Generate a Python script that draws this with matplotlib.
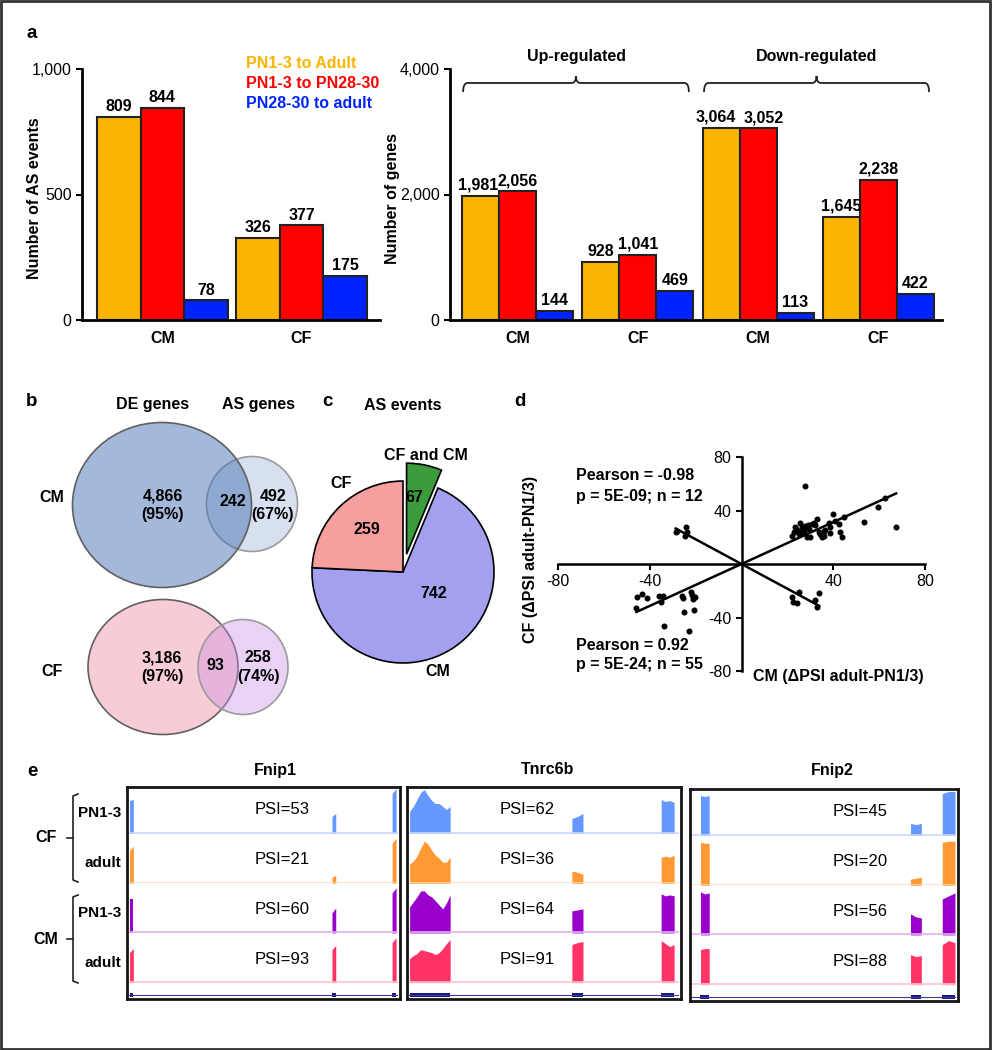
import numpy as np
import matplotlib
matplotlib.use('Agg')
import matplotlib.pyplot as plt
from matplotlib.patches import Ellipse, Rectangle, PathPatch
from matplotlib.path import Path
from matplotlib.lines import Line2D
from matplotlib.ticker import FuncFormatter

plt.rcParams['font.family'] = ['Liberation Sans', 'DejaVu Sans']
plt.rcParams['font.size'] = 11.5
plt.rcParams['axes.unicode_minus'] = False

# ---- data ----
series_names = ['PN1-3 to Adult', 'PN1-3 to PN28-30', 'PN28-30 to adult']
series_colors = ['#fbb400', '#ff0000', '#0022ff']

as_groups = ['CM', 'CF']
as_events_cm = [809, 844, 78]
as_events_cf = [326, 377, 175]

gene_groups = ['CM', 'CF', 'CM', 'CF']
genes_up_cm = [1981, 2056, 144]
genes_up_cf = [928, 1041, 469]
genes_down_cm = [3064, 3052, 113]
genes_down_cf = [1645, 2238, 422]

venn_cm = ['4,866\n(95%)', '242', '492\n(67%)']
venn_cf = ['3,186\n(97%)', '93', '258\n(74%)']

pie_labels = ['CF and CM', 'CM', 'CF']
pie_values = [67, 742, 259]
pie_colors = ['#3c9c3c', '#a3a0f0', '#f5a09f']

# panel d, positive correlation (n = 55)
pos_x = [27.5, 22.0, 22.8, 23.5, 24.9, 25.7, 26.4, 27.1, 27.8, 28.6, 29.3, 30.0, 30.7,
         31.4, 32.9, 33.6, 34.3, 35.0, 35.8, 36.5, 38.0, 38.7, 40.1, 42.3, 43.0, 43.8,
         44.5, 53.2, 59.7, 62.6, 67.4, 24.2, 40.9, 32.2, 26.0, 29.0, 36.0, 38.5,
         -45.8, -45.4, -43.2, -41.0, -35.9, -34.2, -35.2, -33.8, -25.8, -25.4, -25.1,
         -22.9, -22.2, -21.4, -21.0, -20.4, -20.7]
pos_y = [58.0, 20.6, 23.6, 27.4, 22.4, 31.0, 27.4, 24.9, 28.6, 19.9, 26.0, 19.9, 29.9,
         30.3, 33.6, 23.6, 22.4, 20.4, 21.1, 25.4, 31.0, 22.9, 37.3, 29.9, 23.6, 19.9,
         35.3, 31.1, 42.3, 49.3, 27.4, 25.4, 31.8, 29.4, 24.0, 29.5, 25.0, 28.0,
         -33.1, -24.9, -22.4, -25.4, -23.6, -23.9, -28.6, -46.5, -23.9, -25.4, -35.6,
         -50.2, -21.1, -22.9, -26.1, -24.4, -34.1]
# panel d, negative correlation (n = 12)
neg_x = [-28.7, -28.0, -24.1, -24.6, -23.9, 22.0, 22.5, 24.2, 25.2, 32.2, 32.9, 33.9]
neg_y = [23.6, 24.9, 27.4, 20.6, 23.6, -24.9, -28.6, -29.4, -21.1, -26.6, -31.8, -21.6]

# panel e
gene_names = ['Fnip1', 'Tnrc6b', 'Fnip2']
sample_cells = ['CF', 'CM']
sample_ages = ['PN1-3', 'adult', 'PN1-3', 'adult']
track_colors = ['#6699ff', '#ff9933', '#9900cc', '#ff3366']
track_light = ['#c8d8ff', '#ffd9b3', '#e0b3f0', '#ffc2d1']
psi_fnip1 = [53, 21, 60, 93]
psi_tnrc6b = [62, 36, 64, 91]
psi_fnip2 = [45, 20, 56, 88]
# exon spans in % of the window
exons_fnip1 = [(0.4, 1.8), (75.5, 76.9), (97.8, 99.3)]
exons_tnrc6b = [(0.4, 15.4), (60.4, 64.5), (93.4, 98.2)]
exons_fnip2 = [(3.4, 6.7), (82.8, 86.9), (94.8, 99.6)]
# coverage per sample, per exon (profile read across the exon)
cov_fnip1 = [
    [[33, 34], [17, 20], [40, 45]],
    [[33, 37], [6, 8], [40, 45]],
    [[34, 34], [20, 25], [40, 45]],
    [[30, 34], [33, 37], [40, 45]],
]
cov_tnrc6b = [
    [[22, 27, 34, 41, 44, 38, 33, 30, 30, 27, 24, 27], [15, 17, 20], [34, 32, 33, 31]],
    [[19, 22, 27, 35, 42, 39, 33, 28, 25, 21, 21, 26], [12, 11, 9], [26, 27, 26, 28]],
    [[26, 31, 36, 42, 42, 38, 36, 32, 28, 24, 30, 38], [22, 23, 24], [39, 37, 38, 37]],
    [[24, 27, 29, 33, 32, 31, 30, 28, 30, 34, 39, 43], [38, 40, 41], [42, 39, 36, 38]],
]
cov_fnip2 = [
    [[40, 39, 40], [12, 11, 12], [42, 44, 44]],
    [[43, 42, 42], [6, 7, 8], [43, 44, 44]],
    [[43, 41, 42], [21, 18, 17], [36, 39, 42]],
    [[35, 36, 36], [30, 28, 29], [40, 44, 42]],
]

W, H = 992, 1050
fig = plt.figure(figsize=(W / 100, H / 100), dpi=100)


def add_ax(l, t, r, b):
    return fig.add_axes([l / W, 1 - b / H, (r - l) / W, (b - t) / H])


def ftext(x, y, s, **kw):
    kw.setdefault('ha', 'center')
    kw.setdefault('va', 'center')
    fig.text(x / W, 1 - y / H, s, **kw)


def fline(xs, ys, **kw):
    fig.add_artist(Line2D([x / W for x in xs], [1 - y / H for y in ys],
                          transform=fig.transFigure, **kw))


def style_bar_ax(ax):
    for s in ['top', 'right']:
        ax.spines[s].set_visible(False)
    for s in ['left', 'bottom']:
        ax.spines[s].set_linewidth(2)
    ax.tick_params(axis='x', length=0, pad=8, labelsize=11.5)
    ax.tick_params(axis='y', length=4, width=1.5, labelsize=11.5)
    ax.yaxis.set_major_formatter(FuncFormatter(lambda v, p: f'{v:,.0f}'))
    for lab in ax.get_xticklabels():
        lab.set_fontweight('bold')


def brace(ax, x0, x1, y_line, y_end, y_peak, dx):
    xm = (x0 + x1) / 2
    verts = [(x0, y_end), (x0, y_line), (x0 + dx, y_line), (xm - dx, y_line),
             (xm, y_line), (xm, y_peak), (xm, y_line), (xm + dx, y_line),
             (x1 - dx, y_line), (x1, y_line), (x1, y_end)]
    codes = [Path.MOVETO, Path.CURVE3, Path.CURVE3, Path.LINETO, Path.CURVE3, Path.CURVE3,
             Path.CURVE3, Path.CURVE3, Path.LINETO, Path.CURVE3, Path.CURVE3]
    ax.add_patch(PathPatch(Path(verts, codes), fill=False, lw=1.3,
                           edgecolor='#222222', clip_on=False))


bold = dict(fontweight='bold', fontsize=11.5)

# ---- panel a, left ----
ax = add_ax(82, 69, 380, 320)
grp_pos = [0, 3.19]
as_vals = [as_events_cm, as_events_cf]
for j in range(3):
    vals = [v[j] for v in as_vals]
    bars = ax.bar([g + j for g in grp_pos], vals, width=1, color=series_colors[j],
                  edgecolor='#222222', linewidth=1.5)
    ax.bar_label(bars, labels=[f'{v:,}' for v in vals], padding=2, **bold)
ax.set_xlim(-0.844, 5.99)
ax.set_ylim(0, 1000)
ax.set_yticks([0, 500, 1000])
ax.set_xticks([g + 1 for g in grp_pos])
ax.set_xticklabels(as_groups)
style_bar_ax(ax)
ftext(35, 198, 'Number of AS events', rotation=90, **bold)
for j, name in enumerate(series_names):
    ftext(246, 64 + 20 * j, name, ha='left', color=series_colors[j], **bold)

# ---- panel a, right ----
ax = add_ax(450, 69, 942, 320)
grp_pos = [0, 3.25, 6.5, 9.75]
gene_vals = [genes_up_cm, genes_up_cf, genes_down_cm, genes_down_cf]
label_shift = {(0, 2): -4, (1, 2): 4, (0, 0): -2}
for j in range(3):
    vals = [v[j] for v in gene_vals]
    bars = ax.bar([g + j for g in grp_pos], vals, width=1, color=series_colors[j],
                  edgecolor='#222222', linewidth=1.5)
    texts = ax.bar_label(bars, labels=[f'{v:,}' for v in vals], padding=2, **bold)
    for gi, t in enumerate(texts):
        dx = label_shift.get((j, gi), 0)
        if dx:
            t.xyann = (t.xyann[0] + dx, t.xyann[1])
ax.set_xlim(-0.824, 12.47)
ax.set_ylim(0, 4000)
ax.set_yticks([0, 2000, 4000])
ax.set_xticks([g + 1 for g in grp_pos])
ax.set_xticklabels(gene_groups)
style_bar_ax(ax)
brace(ax, -0.47, 5.63, 3777, 3633, 3888, 0.12)
brace(ax, 6.04, 12.12, 3777, 3633, 3888, 0.12)
ax.set_ylim(0, 4000)
ftext(576, 57, 'Up-regulated', **bold)
ftext(817, 57, 'Down-regulated', **bold)
ftext(392, 198, 'Number of genes', rotation=90, **bold)

# ---- panel b ----
ax = add_ax(60, 415, 310, 745)
ax.set_xlim(60, 310)
ax.set_ylim(745, 415)
ax.axis('off')
ax.add_patch(Ellipse((252, 504), 91, 95, facecolor='#4a74b4', alpha=0.22, edgecolor='none'))
ax.add_patch(Ellipse((252, 504), 91, 95, facecolor='none', edgecolor='#9a9a9a', lw=1.2))
ax.add_patch(Ellipse((162, 505), 179, 165, facecolor='#4a74b4', alpha=0.5, edgecolor='none'))
ax.add_patch(Ellipse((162, 505), 179, 165, facecolor='none', edgecolor='#606060', lw=1.2))
ax.add_patch(Ellipse((163, 667), 150, 135, facecolor='#f29bb0', alpha=0.5, edgecolor='none'))
ax.add_patch(Ellipse((163, 667), 150, 135, facecolor='none', edgecolor='#606060', lw=1.2))
ax.add_patch(Ellipse((243, 667), 90, 95, facecolor='#c98fe5', alpha=0.4, edgecolor='none'))
ax.add_patch(Ellipse((243, 667), 90, 95, facecolor='none', edgecolor='#9a9a9a', lw=1.2))
ftext(153, 405, 'DE genes', **bold)
ftext(259, 405, 'AS genes', **bold)
ftext(52, 497, 'CM', **bold)
ftext(52, 672, 'CF', **bold)
for (x, y), s in zip([(163, 505), (233, 502), (273, 505)], venn_cm):
    ftext(x, y, s, linespacing=1.25, **bold)
for (x, y), s in zip([(162, 667), (215, 665), (258, 667)], venn_cf):
    ftext(x, y, s, linespacing=1.25, **bold)

# ---- panel c ----
ax = add_ax(288, 457, 518, 687)
ax.pie(pie_values, colors=pie_colors, startangle=90, counterclock=False,
       explode=[0.2, 0, 0], wedgeprops=dict(edgecolor='black', linewidth=1.2))
ax.set_xlim(-1.264, 1.264)
ax.set_ylim(-1.264, 1.264)
ax.set_aspect('equal')
ftext(403, 405, 'AS events', **bold)
ftext(426, 455, pie_labels[0], **bold)
ftext(414, 498, f'{pie_values[0]}', **bold)
ftext(434, 593, f'{pie_values[1]}', **bold)
ftext(438, 672, pie_labels[1], **bold)
ftext(367, 530, f'{pie_values[2]}', **bold)
ftext(341, 483, pie_labels[2], **bold)

# ---- panel d ----
ax = add_ax(558, 457, 925, 671)
ax.scatter(pos_x, pos_y, s=11, color='black', zorder=3)
ax.scatter(neg_x, neg_y, s=11, color='black', zorder=3)
for xs, ys in [(pos_x, pos_y), (neg_x, neg_y)]:
    xs, ys = np.array(xs), np.array(ys)
    k = np.sum(xs * ys) / np.sum(xs * xs)
    xl = np.array([xs.min(), xs.max()])
    ax.plot(xl, k * xl, color='black', lw=1.8)
ax.set_xlim(-80, 80)
ax.set_ylim(-80, 80)
ax.spines['left'].set_position('zero')
ax.spines['bottom'].set_position('zero')
ax.spines['top'].set_visible(False)
ax.spines['right'].set_visible(False)
ax.spines['left'].set_linewidth(1.8)
ax.spines['bottom'].set_linewidth(1.8)
ax.set_xticks([-80, -40, 40, 80])
ax.set_yticks([-80, -40, 40, 80])
ax.tick_params(labelsize=11.5, width=1.5, length=4)
ax.set_facecolor('none')
ftext(576, 476, 'Pearson = -0.98', ha='left', **bold)
ftext(576, 496, 'p = 5E-09; n = 12', ha='left', **bold)
ftext(576, 645, 'Pearson = 0.92', ha='left', **bold)
ftext(576, 665, 'p = 5E-24; n = 55', ha='left', **bold)
ftext(530, 559, 'CF (\u0394PSI adult-PN1/3)', rotation=90, **bold)
ftext(753, 676, 'CM (\u0394PSI adult-PN1/3)', ha='left', **bold)

# ---- panel e ----
boxes = [(127, 787, 400, 999), (407, 787, 681, 999), (690, 789, 958, 1001)]
exon_sets = [exons_fnip1, exons_tnrc6b, exons_fnip2]
cov_sets = [cov_fnip1, cov_tnrc6b, cov_fnip2]
psi_sets = [psi_fnip1, psi_tnrc6b, psi_fnip2]
psi_pos = [(282, 'center'), (500, 'left'), (833, 'left')]
title_x = [275, 548, 832]

for gi, (l, t, r, b) in enumerate(boxes):
    fax = add_ax(l, t, r, b)
    fax.set_xticks([])
    fax.set_yticks([])
    for s in fax.spines.values():
        s.set_linewidth(2)
        s.set_edgecolor('#151515')
    ftext(title_x[gi], 770, gene_names[gi], **bold)
    base = t + 46
    for i in range(4):
        bl = base + 49.7 * i
        tax = add_ax(l + 1.5, bl - 48, r - 2, bl + 0.5)
        tax.set_xlim(0, 100)
        tax.set_ylim(0, 48.5)
        tax.axis('off')
        tax.axhline(0.6, color=track_light[i], lw=1.2)
        for (x0, x1), prof in zip(exon_sets[gi], cov_sets[gi][i]):
            xs = np.concatenate([[x0], np.linspace(x0, x1, len(prof)), [x1]])
            ys = np.concatenate([[0], prof, [0]])
            tax.fill_between(xs, 0, ys, color=track_colors[i], linewidth=0)
        px_, ha_ = psi_pos[gi]
        ftext(px_, bl - 23, f'PSI={psi_sets[gi][i]}', ha=ha_, fontsize=12)
    gl = base + 49.7 * 3
    gax = add_ax(l + 1.5, gl + 3, r - 2, b - 1)
    gax.set_xlim(0, 100)
    gax.set_ylim(0, 1)
    gax.axis('off')
    gax.axhline(0.25, color='#3a3aa0', lw=0.8)
    for x0, x1 in exon_sets[gi]:
        gax.bar(x0, 0.28, bottom=0.11, width=x1 - x0, align='edge', color='#1a1a80', linewidth=0)

ftext(46, 838, sample_cells[0], **bold)
ftext(46, 939, sample_cells[1], **bold)
for i, yy in enumerate([813, 863, 913, 963]):
    ftext(121, yy, sample_ages[i], ha='right', fontweight='bold', fontsize=11)
for top, bot in [(794, 882), (895, 983)]:
    mid = (top + bot) / 2
    fline([78, 73, 73, 78], [top, top + 2, bot - 2, bot], color='#222222', lw=1.2)
    fline([67, 73], [mid, mid], color='#222222', lw=1.2)

# panel letters
for s, (x, y) in zip('abcde', [(32, 34), (32, 402), (327, 402), (520, 402), (32, 772)]):
    ftext(x, y, s, fontweight='bold', fontsize=13.5)

fig.add_artist(Rectangle((1 / W, 1 / H), 989 / W, 1048 / H, transform=fig.transFigure,
                         fill=False, edgecolor='#333333', lw=2))

fig.savefig('out.png', dpi=100)
